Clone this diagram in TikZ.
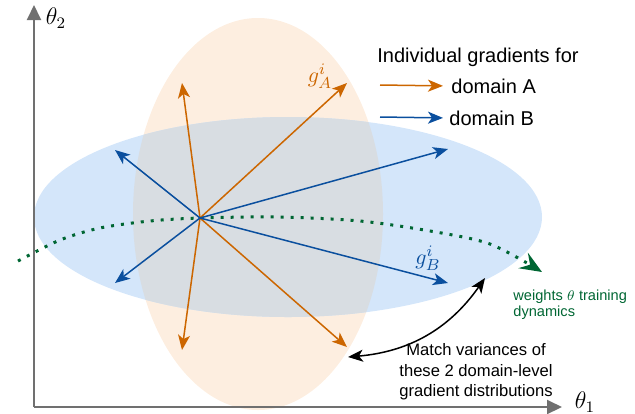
\documentclass[tikz,border=0pt]{standalone}
\usepackage{fontspec}
\setmainfont{Liberation Sans}
\usetikzlibrary{arrows.meta}
\definecolor{gradA}{HTML}{CC6600}
\definecolor{gradB}{HTML}{0A4F9E}
\definecolor{peach}{HTML}{FDEEE0}
\definecolor{sky}{HTML}{D4E6FA}
\definecolor{overlap}{HTML}{D8DDE2}
\definecolor{traj}{HTML}{006633}
\definecolor{axisgray}{HTML}{707070}
\begin{document}
\begin{tikzpicture}[x=0.5pt, y=-0.5pt,
    axis/.style={axisgray, line width=1pt, -{Triangle[length=7.5pt, width=7pt]}},
    arrA/.style={gradA, line width=0.75pt, -{Stealth[length=7.5pt, width=6pt, inset=2pt]}},
    arrB/.style={gradB, line width=0.75pt, -{Stealth[length=7.5pt, width=6pt, inset=2pt]}},
    label/.style={inner sep=0pt, font=\fontsize{10}{12}\selectfont}]
            \useasboundingbox (0,0) rectangle (635,413);
            % the two gradient distributions
            \fill[peach] (258,214) ellipse [x radius=125, y radius=196];
            \fill[sky] (288,217) ellipse [x radius=254, y radius=100];
            \begin{scope}
                \clip (258,214) ellipse [x radius=125, y radius=196];
                \fill[overlap] (288,217) ellipse [x radius=254, y radius=100];
            \end{scope}
            % axes
            \coordinate (orig) at (34,407);
            \coordinate (ytop) at (34,5);
            \coordinate (xend) at (562,407);
            \draw[axis] (orig) -- (ytop);
            \draw[axis] (orig) -- (xend);
            \node (t2) at (56,18) {\fontsize{12}{14}\selectfont$\theta_2$};
            \node (t1) at (585,402) {\fontsize{12}{14}\selectfont$\theta_1$};
            % training trajectory
            \coordinate (start) at (18,261);
            \coordinate (stop) at (542,272);
            \draw[traj, line width=1.5pt, dash pattern=on 1.5pt off 3.5pt, -{Stealth[length=11pt, width=9pt, inset=4pt]}]
                plot[smooth] coordinates {(start) (60,240) (100,228) (150,221) (200,218) (280,217) (360,221) (430,231) (490,244) (stop)};
            % gradients
            \coordinate (O) at (200,218);
            \coordinate (a1) at (182,83);
            \coordinate (a2) at (347,83);
            \coordinate (a3) at (182,350);
            \coordinate (a4) at (347,347);
            \coordinate (b1) at (115,150);
            \coordinate (b2) at (448,149);
            \coordinate (b3) at (115,283);
            \coordinate (b4) at (448,283);
            \draw[arrA] (O) -- (a1);
            \draw[arrA] (O) -- (a2);
            \draw[arrA] (O) -- (a3);
            \draw[arrA] (O) -- (a4);
            \draw[arrB] (O) -- (b1);
            \draw[arrB] (O) -- (b2);
            \draw[arrB] (O) -- (b3);
            \draw[arrB] (O) -- (b4);
            \node[text=gradA] (gA) at (320,76) {\fontsize{11}{13}\selectfont$g_A^i$};
            \node[text=gradB] (gB) at (428,258) {\fontsize{11}{13}\selectfont$g_B^i$};
            % legend
            \node[label] (title) at (478,57) {Individual gradients for};
            \node[label, anchor=west] (legA) at (451,86) {domain A};
            \node[label, anchor=west] (legB) at (449,118) {domain B};
            \coordinate (la) at (380,85);
            \coordinate (lb) at (380,117);
            \draw[arrA, shorten >=4pt] (la) -- (legA.west);
            \draw[arrB, shorten >=3pt] (lb) -- (legB.west);
            % annotations
            \node[text=traj, anchor=west, align=left, inner sep=0pt, font=\fontsize{7.3}{8}\selectfont] (dyn) at (513,305) {weights $\theta$ training\\dynamics};
            \coordinate (m1) at (348,357);
            \coordinate (m2) at (485,278);
            \draw[black, line width=0.75pt, {Stealth[length=7.5pt, width=6pt, inset=2pt]}-{Stealth[length=7.5pt, width=6pt, inset=2pt]}] (m1) to[bend right=25] (m2);
            \node[align=center, inner sep=0pt, font=\fontsize{8.3}{10.25}\selectfont] (match) at (476,372) {Match variances of\\these 2 domain-level\\gradient distributions};
        \end{tikzpicture}
\end{document}
